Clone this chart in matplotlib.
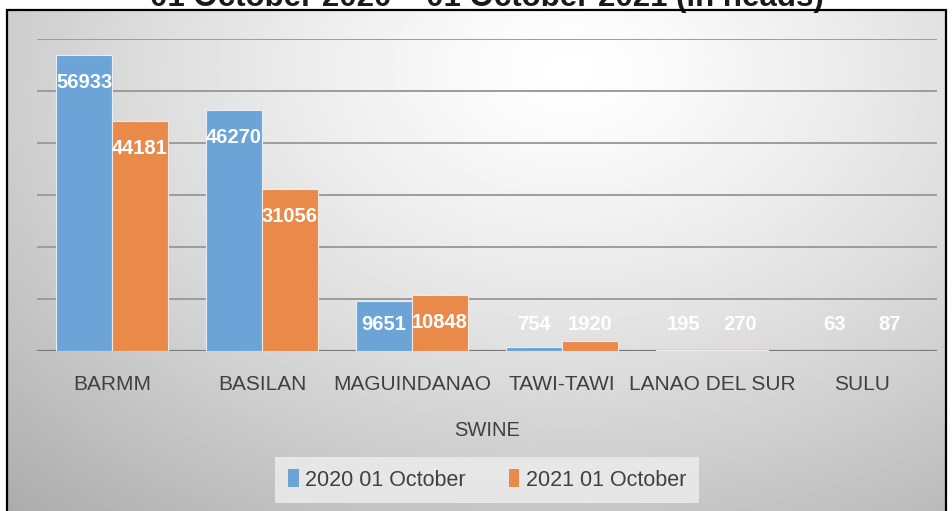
import numpy as np
import matplotlib
matplotlib.use("Agg")
import matplotlib.pyplot as plt
from matplotlib.patches import Rectangle, Patch

plt.rcParams['font.family'] = ['Liberation Sans', 'DejaVu Sans']

# data
provinces = ["BARMM", "BASILAN", "MAGUINDANAO", "TAWI-TAWI", "LANAO DEL SUR", "SULU"]
heads_2020 = [56933, 46270, 9651, 754, 195, 63]
heads_2021 = [44181, 31056, 10848, 1920, 270, 87]
series_names = ["2020 01 October", "2021 01 October"]
title = "01 October 2020 \u2013 01 October 2021 (in heads)"

blue = "#6CA4D8"
orange = "#EA8A4A"

W, H = 953, 511
fig = plt.figure(figsize=(W / 100, H / 100), dpi=100)

# gradient background inside the chart frame
bx0, by_top = 7, 10
bg = fig.add_axes([bx0 / W, 0, (W - 2 * bx0) / W, (H - by_top) / H], zorder=-10)
yy, xx = np.mgrid[0:1:300j, 0:1:600j]
r = np.sqrt(((xx - 0.6) / 0.75) ** 2 + ((yy - 0.12) / 1.0) ** 2)
shade = 1 - 0.26 * np.clip(r, 0, 1.3) ** 1.3
bg.imshow(shade, cmap="gray", vmin=0, vmax=1, aspect="auto", interpolation="bilinear")
bg.axis("off")

# main axes
ax = fig.add_axes([37 / W, (H - 351) / H, 900 / W, (351 - 38.7) / H])
ax.patch.set_alpha(0)
x = np.arange(len(provinces))
bw = 0.373
b1 = ax.bar(x - bw / 2, heads_2020, bw, color=blue, edgecolor="#e8eef5", linewidth=0.8, zorder=3)
b2 = ax.bar(x + bw / 2, heads_2021, bw, color=orange, edgecolor="#f5e8e0", linewidth=0.8, zorder=3)

ax.set_xlim(-0.5, len(provinces) - 0.5)
ax.set_ylim(0, 60000)
ax.set_yticks(np.arange(0, 60001, 10000))
ax.yaxis.grid(True, color="#9c9c9c", linewidth=1.4)
ax.set_axisbelow(True)
ax.axhline(0, color="#7a7a7a", linewidth=1.6, zorder=2)
for s in ax.spines.values():
    s.set_visible(False)
ax.tick_params(axis="y", length=0, labelleft=False)
ax.set_xticks(x)
ax.set_xticklabels(provinces, fontsize=15, color="#404040")
ax.tick_params(axis="x", length=0, pad=17)

# data labels (inside end, pushed up for short bars)
for bars, vals in ((b1, heads_2020), (b2, heads_2021)):
    for rect, v in zip(bars, vals):
        ly = max(v - 5300, 5000)
        ax.text(rect.get_x() + rect.get_width() / 2, ly, str(v), ha="center", va="center",
                color="white", fontsize=14.5, fontweight="bold", zorder=4)

fig.text(487 / W, 1 - 430 / H, "SWINE", ha="center", va="center", fontsize=14.5, color="#404040")

handles = [Patch(facecolor=blue), Patch(facecolor=orange)]
leg = fig.legend(handles, series_names, loc="center", bbox_to_anchor=(487 / W, 1 - 480 / H),
                 ncol=2, fontsize=15.5, frameon=True, facecolor="#ececec", edgecolor="none",
                 fancybox=False, handlelength=0.5, handleheight=0.85, handletextpad=0.3,
                 columnspacing=2.0, borderpad=0.6, labelcolor="#404040")
leg.get_frame().set_alpha(0.85)

fig.text(487 / W, 1 - 6 / H, title, ha="center", va="baseline", fontsize=22.5,
         fontweight="bold", color="#1a1a1a")

fig.patches.append(Rectangle((bx0 / W, -0.01), (W - 2 * bx0) / W, (H - by_top) / H + 0.01,
                             transform=fig.transFigure, fill=False, edgecolor="black",
                             linewidth=1.6, zorder=20))

fig.savefig("out.png", dpi=100)
